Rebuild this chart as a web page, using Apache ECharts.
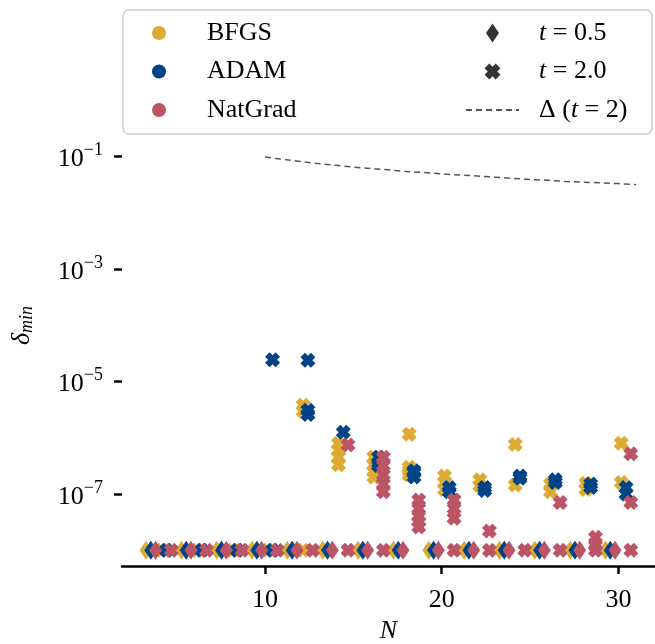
<!DOCTYPE html>
<html>
<head>
<meta charset="utf-8">
<script src="https://cdn.jsdelivr.net/npm/echarts@6/dist/echarts.min.js"></script>
<style>
  html, body { margin: 0; padding: 0; background: #fff; }
  #chart { width: 655px; height: 644px; }
</style>
</head>
<body>
<div id="chart"></div>
<script>
// system sizes N
const systemSizes = [4, 6, 8, 10, 12, 14, 16, 18, 20, 22, 24, 26, 28, 30];

// t = 0.5 : every run ends on the floor
const bfgsT05 = [1e-8, 1e-8, 1e-8, 1e-8, 1e-8, 1e-8, 1e-8, 1e-8, 1e-8, 1e-8, 1e-8, 1e-8, 1e-8, 1e-8];
const adamT05 = [1e-8, 1e-8, 1e-8, 1e-8, 1e-8, 1e-8, 1e-8, 1e-8, 1e-8, 1e-8, 1e-8, 1e-8, 1e-8, 1e-8];
const natgradT05 = [1e-8, 1e-8, 1e-8, 1e-8, 1e-8, 1e-8, 1e-8, 1e-8, 1e-8, 1e-8, 1e-8, 1e-8, 1e-8, 1e-8];

// t = 2.0 : [N, delta_min] per run
const bfgsT20 = [
  [4, 1e-8], [6, 1e-8], [8, 1e-8], [10, 1e-8], [12, 1e-8], [12, 3.8e-6], [12, 3.0e-6],
  [14, 7.9e-7], [14, 6.0e-7], [14, 4.5e-7], [14, 3.3e-7],
  [16, 4.5e-7], [16, 3.3e-7], [16, 2.5e-7], [16, 2.0e-7],
  [18, 1.15e-6], [18, 3.0e-7], [18, 2.6e-7], [18, 2.2e-7],
  [20, 2.1e-7], [20, 1.6e-7], [20, 1.2e-7],
  [22, 1.8e-7], [22, 1.4e-7],
  [24, 7.6e-7], [24, 1.45e-7],
  [26, 1.5e-7], [26, 1.1e-7],
  [28, 1.55e-7], [28, 1.2e-7],
  [30, 8.0e-7], [30, 1.6e-7]
];
const adamT20 = [
  [4, 1e-8], [6, 1e-8], [8, 1e-8], [10, 1e-8], [10, 2.45e-5],
  [12, 2.4e-5], [12, 3.1e-6], [12, 2.6e-6],
  [14, 1.25e-6],
  [16, 4.5e-7], [16, 3.6e-7], [16, 3.2e-7],
  [18, 2.6e-7], [18, 2.4e-7], [18, 2.0e-7],
  [20, 1.3e-7], [20, 1.1e-7],
  [22, 1.3e-7], [22, 1.15e-7],
  [24, 2.1e-7], [24, 1.9e-7],
  [26, 1.8e-7], [26, 1.6e-7],
  [28, 1.5e-7], [28, 1.3e-7],
  [30, 1.3e-7], [30, 1.0e-7]
];
const natgradT20 = [
  [4, 1e-8], [6, 1e-8], [8, 1e-8], [10, 1e-8], [12, 1e-8], [14, 1e-8], [16, 1e-8],
  [14, 7.4e-7],
  [16, 4.5e-7], [16, 3.2e-7], [16, 2.2e-7], [16, 1.5e-7], [16, 1.1e-7],
  [18, 7.8e-8], [18, 5.5e-8], [18, 4.0e-8], [18, 3.2e-8], [18, 2.6e-8],
  [20, 1e-8], [20, 7.8e-8], [20, 5.5e-8], [20, 3.7e-8],
  [22, 1e-8], [22, 2.2e-8],
  [24, 1e-8],
  [26, 1e-8], [26, 7.1e-8],
  [28, 1e-8], [28, 1.7e-8], [28, 1.2e-8],
  [30, 1e-8], [30, 5.2e-7], [30, 7.1e-8]
];

// spectral gap Delta at t = 2
const gapN = [10, 11, 12, 13, 14, 15, 16, 17, 18, 19, 20, 21, 22, 23, 24, 25, 26, 27, 28, 29, 30, 31];
const gapT2 = [0.098, 0.089, 0.082, 0.075, 0.070, 0.065, 0.061, 0.058, 0.054, 0.052, 0.049,
  0.047, 0.045, 0.043, 0.041, 0.039, 0.038, 0.036, 0.035, 0.034, 0.033, 0.0315];

const xTicks = [10, 20, 30];
const yTicks = [1e-7, 1e-5, 1e-3, 1e-1];

const COLORS = { BFGS: '#DDAA33', ADAM: '#004488', NatGrad: '#BB5566' };
const FONT = 'Liberation Serif';
const DIAMOND = 'path://M5,0 L10,9 L5,18 L0,9 Z';
const CROSS = 'path://M0,3 L3,0 L5,2 L7,0 L10,3 L8,5 L10,7 L7,10 L5,8 L3,10 L0,7 L2,5 Z';
// legend icons: wider diamond, cross with a little empty margin
const DIAMOND_ICON = 'path://M6.5,0 L13,9.5 L6.5,19 L0,9.5 Z';
const CROSS_ICON = 'path://M-1,-1 L-1,-1 M11,11 L11,11 M0,3 L3,0 L5,2 L7,0 L10,3 L8,5 L10,7 L7,10 L5,8 L3,10 L0,7 L2,5 Z';
const OPT_SHIFT = { BFGS: -0.27, ADAM: 0, NatGrad: 0.27 };
const T_SHIFT = { t05: -0.46, t20: 0.43 };

const chart = echarts.init(document.getElementById('chart'));

function diamonds(opt, vals) {
  return {
    name: opt + ' t0.5', type: 'scatter', symbol: DIAMOND, symbolSize: [13, 19],
    itemStyle: { color: COLORS[opt], opacity: 1 },
    data: vals.map((v, i) => [systemSizes[i] + T_SHIFT.t05 + OPT_SHIFT[opt], v])
  };
}
function crosses(opt, runs) {
  return {
    name: opt + ' t2.0', type: 'scatter', symbol: CROSS, symbolSize: 15,
    itemStyle: { color: COLORS[opt], opacity: 1 },
    data: runs.map(r => [r[0] + T_SHIFT.t20 + OPT_SHIFT[opt], r[1]])
  };
}
function legendDummy(name, symbol, color) {
  return { name, type: 'scatter', symbol, itemStyle: { color, opacity: 1 }, data: [] };
}

const supDigits = e => (e < 0 ? '\u2212' : '') + Math.abs(e);
const legendText = {
  fontFamily: FONT, fontSize: 26, color: '#000', lineHeight: 26,
  rich: {
    i: { fontFamily: FONT, fontSize: 26, fontStyle: 'italic', lineHeight: 26 },
    r: { fontFamily: FONT, fontSize: 26, lineHeight: 26 }
  }
};

chart.setOption({
  animation: false,
  backgroundColor: '#fff',
  grid: { left: 122, right: 0, top: 85, bottom: 78, outerBoundsMode: 'none' },
  graphic: [{
    type: 'rect', z: 3, silent: true,
    shape: { x: 123, y: 10, width: 529, height: 124, r: 6 },
    style: { fill: 'rgba(255,255,255,0.8)', stroke: '#cccccc', lineWidth: 1.5 }
  }],
  legend: [{
    left: 152, top: 20, padding: 0, orient: 'vertical', itemGap: 12.5,
    itemWidth: 14, itemHeight: 14, selectedMode: false, z: 5,
    data: ['BFGS', 'ADAM', 'NatGrad'].map(n => ({ name: n, icon: 'circle' })),
    textStyle: Object.assign({ padding: [0, 0, 0, 36] }, legendText)
  }, {
    left: 465, top: 20, padding: 0, orient: 'vertical', itemGap: 12.5,
    itemWidth: 53, itemHeight: 19, selectedMode: false, z: 5,
    data: [
      { name: 't = 0.5', icon: DIAMOND_ICON },
      { name: 't = 2.0', icon: CROSS_ICON },
      { name: 'gap', itemStyle: { color: 'rgba(0,0,0,0)', borderWidth: 0, opacity: 0 } }
    ],
    formatter: name => ({
      't = 0.5': '{i|t}{r| = 0.5}',
      't = 2.0': '{i|t}{r| = 2.0}',
      'gap': '{r|\u0394 (}{i|t}{r| = 2)}'
    })[name],
    textStyle: Object.assign({ padding: [0, 0, 0, 15] }, legendText)
  }],
  xAxis: {
    type: 'value', min: 1.91, max: 32.07,
    name: 'N', nameLocation: 'middle', nameGap: 46,
    nameTextStyle: { fontFamily: FONT, fontSize: 26, fontStyle: 'italic', color: '#000' },
    axisLine: { lineStyle: { color: '#000', width: 2.5 } },
    axisTick: { customValues: xTicks, length: 8, lineStyle: { color: '#000', width: 2.5 } },
    axisLabel: { customValues: xTicks, margin: 21, fontFamily: FONT, fontSize: 26, color: '#000' },
    splitLine: { show: false }
  },
  yAxis: {
    type: 'log', logBase: 10, min: 5.25e-9, max: 1.87,
    name: '{d|\u03b4}{s|min}', nameLocation: 'middle', nameGap: 86,
    nameTextStyle: {
      rich: {
        d: { fontFamily: FONT, fontSize: 26, fontStyle: 'italic', color: '#000' },
        s: { fontFamily: FONT, fontSize: 18, fontStyle: 'italic', color: '#000', padding: [10, 0, 0, 0] }
      }
    },
    axisLine: { show: false },
    axisTick: { customValues: yTicks, length: 8, lineStyle: { color: '#000', width: 2.5 } },
    axisLabel: {
      customValues: yTicks, margin: 19,
      formatter: v => '{b|10}{s|' + supDigits(Math.round(Math.log10(v))) + '}',
      rich: {
        b: { fontFamily: FONT, fontSize: 26, color: '#000', padding: [6, 0, 0, 0] },
        s: { fontFamily: FONT, fontSize: 18, color: '#000', padding: [0, 0, 12, 0] }
      }
    },
    splitLine: { show: false }
  },
  series: [
    legendDummy('BFGS', 'circle', COLORS.BFGS),
    legendDummy('ADAM', 'circle', COLORS.ADAM),
    legendDummy('NatGrad', 'circle', COLORS.NatGrad),
    legendDummy('t = 0.5', DIAMOND, '#333'),
    legendDummy('t = 2.0', CROSS, '#333'),
    {
      name: 'gap', type: 'line', symbol: 'none', z: 1,
      lineStyle: { color: '#555', width: 1.5, type: [6, 4] },
      itemStyle: { color: '#555' },
      data: gapN.map((n, i) => [n, gapT2[i]])
    },
    diamonds('BFGS', bfgsT05),
    crosses('BFGS', bfgsT20),
    diamonds('ADAM', adamT05),
    crosses('ADAM', adamT20),
    diamonds('NatGrad', natgradT05),
    crosses('NatGrad', natgradT20)
  ]
});
</script>
</body>
</html>
